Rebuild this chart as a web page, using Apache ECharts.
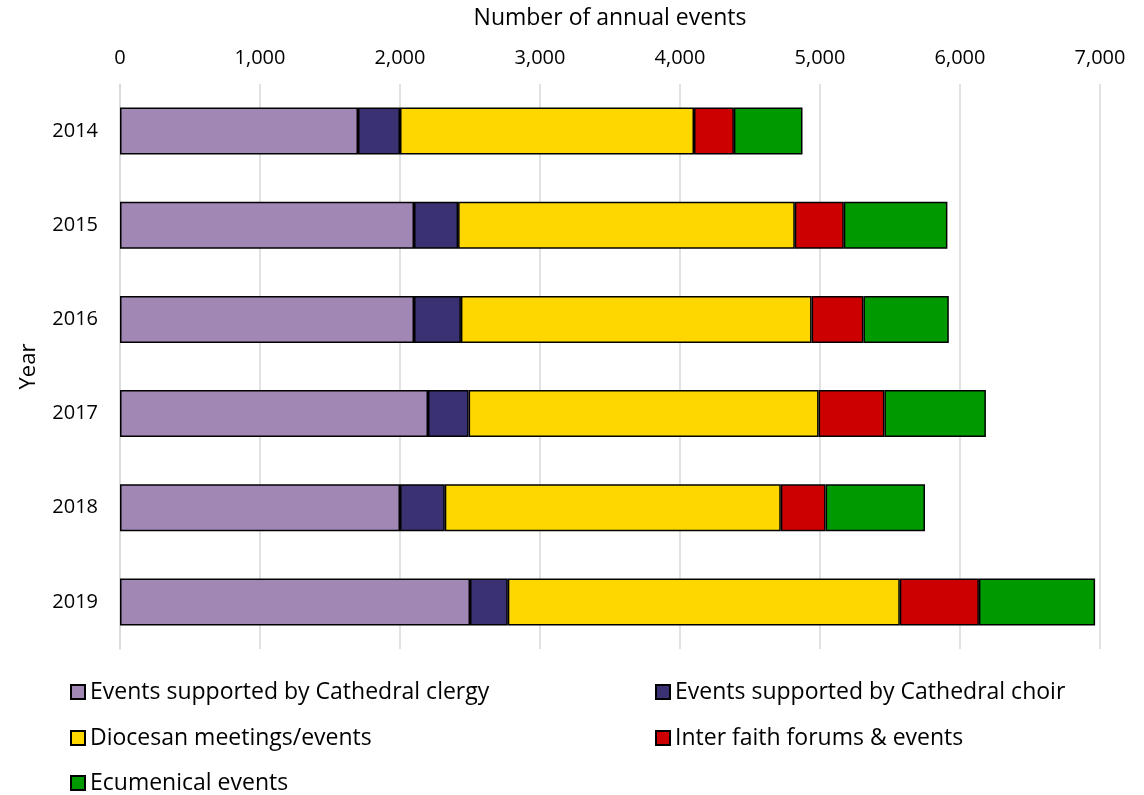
<!DOCTYPE html>
<html>
<head>
<meta charset="utf-8">
<script src="https://cdn.jsdelivr.net/npm/echarts@6/dist/echarts.min.js"></script>
<style>
html,body{margin:0;padding:0;background:#fff;}
#chart{width:1144px;height:795px;}
</style>
</head>
<body>
<div id="chart"></div>
<script>
const years = ['2014', '2015', '2016', '2017', '2018', '2019'];
const clergy = [1700, 2100, 2100, 2200, 2000, 2500];
const choir = [300, 315, 335, 290, 320, 270];
const diocesan = [2100, 2405, 2505, 2500, 2400, 2800];
const interFaith = [285, 350, 370, 470, 320, 565];
const ecumenical = [490, 740, 610, 725, 710, 830];
const xTicks = { min: 0, max: 7000, interval: 1000 };

const seriesDefs = [
  { name: 'Events supported by Cathedral clergy', data: clergy, color: '#A087B4' },
  { name: 'Events supported by Cathedral choir', data: choir, color: '#3A3172' },
  { name: 'Diocesan meetings/events', data: diocesan, color: '#FFD700' },
  { name: 'Inter faith forums & events', data: interFaith, color: '#CC0000' },
  { name: 'Ecumenical events', data: ecumenical, color: '#009900' }
];

const FONT = 'Open Sans';
const legendPos = [
  { left: 70, top: 679 },
  { left: 655, top: 679 },
  { left: 70, top: 725 },
  { left: 655, top: 725 },
  { left: 70, top: 770 }
];
const chart = echarts.init(document.getElementById('chart'));
chart.setOption({
  animation: false,
  backgroundColor: '#fff',
  textStyle: { fontFamily: FONT },
  grid: { left: 120, right: 44, top: 84, bottom: 146, containLabel: false, outerBoundsMode: 'none' },
  legend: seriesDefs.map((s, i) => ({
    orient: 'horizontal',
    left: legendPos[i].left,
    top: legendPos[i].top,
    padding: 0,
    itemWidth: 14,
    itemHeight: 14,
    icon: 'rect',
    selectedMode: false,
    textStyle: { fontFamily: FONT, fontSize: 23, lineHeight: 26, color: '#000' },
    data: [s.name]
  })),
  xAxis: {
    type: 'value',
    position: 'top',
    min: xTicks.min,
    max: xTicks.max,
    interval: xTicks.interval,
    name: 'Number of annual events',
    nameLocation: 'middle',
    nameGap: 54,
    nameTextStyle: { fontFamily: FONT, fontSize: 23, color: '#000' },
    axisLine: { show: false },
    axisTick: { show: false },
    axisLabel: {
      margin: 16,
      fontFamily: FONT, fontSize: 20, color: '#000',
      formatter: v => v.toLocaleString('en-US')
    },
    splitLine: { show: true, lineStyle: { color: '#D9D9D9', width: 1.5 } }
  },
  yAxis: {
    type: 'category',
    data: years,
    inverse: true,
    name: 'Year',
    nameLocation: 'middle',
    nameRotate: 90,
    nameGap: 80,
    nameTextStyle: { fontFamily: FONT, fontSize: 22, color: '#000' },
    axisLine: { show: true, lineStyle: { color: '#D9D9D9', width: 1.5 } },
    axisTick: { show: false },
    axisLabel: { margin: 22, fontFamily: FONT, fontSize: 20, color: '#000' }
  },
  series: seriesDefs.map(s => ({
    name: s.name,
    type: 'bar',
    stack: 'total',
    data: s.data,
    barWidth: 47,
    itemStyle: { color: s.color, borderColor: '#000', borderWidth: 1.5 }
  }))
});
</script>
</body>
</html>
